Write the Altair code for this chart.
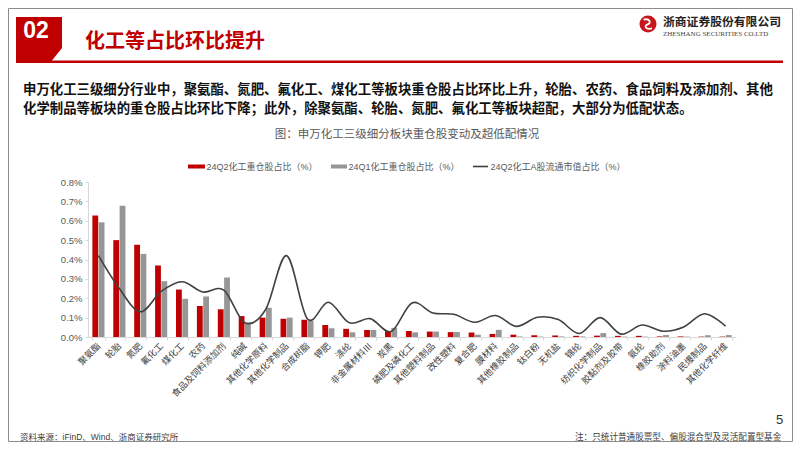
import altair as alt
import pandas as pd

# ---------------- data ----------------
categories = ["聚氨酯", "轮胎", "氮肥", "氟化工", "煤化工", "农药", "食品及饲料添加剂", "纯碱",
              "其他化学原料", "其他化学制品", "合成树脂", "钾肥", "涤纶", "非金属材料Ⅲ", "炭黑",
              "磷肥及磷化工", "其他塑料制品", "改性塑料", "复合肥", "膜材料", "其他橡胶制品", "钛白粉",
              "无机盐", "锦纶", "纺织化学制品", "胶黏剂及胶带", "氨纶", "橡胶助剂", "涂料油墨",
              "民爆制品", "其他化学纤维"]
q2_share = [0.627, 0.500, 0.476, 0.369, 0.245, 0.160, 0.143, 0.108, 0.100, 0.094, 0.089, 0.062,
            0.042, 0.036, 0.031, 0.031, 0.028, 0.025, 0.023, 0.016, 0.012, 0.009, 0.008, 0.006,
            0.007, 0.006, 0.006, 0.003, 0.003, 0.002, 0.002]
q1_share = [0.592, 0.678, 0.429, 0.288, 0.197, 0.209, 0.307, 0.074, 0.151, 0.100, 0.083, 0.045,
            0.024, 0.036, 0.047, 0.024, 0.028, 0.026, 0.012, 0.037, 0.003, 0.002, 0.003, 0.003,
            0.020, 0.002, 0.002, 0.010, 0.002, 0.009, 0.010]
mv_share = [0.420, 0.250, 0.130, 0.235, 0.285, 0.232, 0.242, 0.074, 0.142, 0.420, 0.093, 0.179,
            0.073, 0.095, 0.028, 0.176, 0.124, 0.117, 0.076, 0.111, 0.055, 0.102, 0.090, 0.018,
            0.100, 0.015, 0.062, 0.030, 0.052, 0.120, 0.056]
series_names = ["24Q2化工重仓股占比（%）", "24Q1化工重仓股占比（%）", "24Q2化工A股流通市值占比（%）"]
y_ticks = [0.0, 0.1, 0.2, 0.3, 0.4, 0.5, 0.6, 0.7, 0.8]

bars_df = pd.DataFrame(
    [{"category": c, "series": series_names[0], "value": v} for c, v in zip(categories, q2_share)]
    + [{"category": c, "series": series_names[1], "value": v} for c, v in zip(categories, q1_share)]
)
line_df = pd.DataFrame({"category": categories, "value": mv_share})

CJK = "Noto Sans CJK SC"
LAT = "Liberation Sans, Noto Sans CJK SC"
RED = "#C00000"
GRAY = "#969696"
DARK = "#404040"

# plot area origin in page coordinates (8px body margin + padding)
OX, OY = 88, 182
one = pd.DataFrame({"k": [0]})


def px(x):
    return alt.value(x - OX)


def py(y):
    return alt.value(y - OY)


def txt(s, x, y, size, color, weight="normal", align="left", font=CJK, baseline="middle"):
    return alt.Chart(one).mark_text(
        text=s, align=align, baseline=baseline, fontSize=size, font=font,
        fontWeight=weight, color=color
    ).encode(x=px(x), y=py(y))


def box(x1, x2, y1, y2, color, fill=True, sw=1):
    if fill:
        m = alt.Chart(one).mark_rect(color=color)
    else:
        m = alt.Chart(one).mark_rect(fill=None, filled=False, stroke=color, strokeWidth=sw)
    return m.encode(x=px(x1), x2=px(x2), y=py(y1), y2=py(y2))


# ---------------- chart ----------------
x_axis = alt.Axis(title=None, labelAngle=315, labelAlign="right", labelBaseline="middle",
                  labelFontSize=9, labelFont=CJK, labelColor="#404040", tickBand="extent",
                  tickSize=3, tickColor="#d9d9d9", domainColor="#d9d9d9", labelPadding=4,
                  labelOverlap=False, labelLimit=200)
x_scale = alt.Scale(paddingInner=0.42, paddingOuter=0.21)
y_axis = alt.Axis(title=None, values=y_ticks, labelExpr="format(datum.value, '.1f') + '%'",
                  labelFontSize=9.5, labelFont="Liberation Sans", labelColor="#595959",
                  tickSize=3, tickColor="#d9d9d9", domainColor="#d9d9d9", grid=False,
                  labelPadding=3, labelOverlap=False, tickCount=9)
y_scale = alt.Scale(domain=[0, 0.8], nice=False)

bars = alt.Chart(bars_df).mark_bar().encode(
    x=alt.X("category:N", sort=categories, scale=x_scale, axis=x_axis),
    xOffset=alt.XOffset("series:N", sort=series_names[:2], scale=alt.Scale(paddingInner=0.08)),
    y=alt.Y("value:Q", scale=y_scale, axis=y_axis),
    color=alt.Color("series:N", scale=alt.Scale(domain=series_names[:2], range=[RED, GRAY]),
                    legend=None),
)

line = alt.Chart(line_df).mark_line(interpolate="cardinal", color=DARK, strokeWidth=1.6).encode(
    x=alt.X("category:N", sort=categories, scale=x_scale, axis=x_axis),
    y=alt.Y("value:Q", scale=y_scale, axis=y_axis),
)

# ---------------- slide decorations ----------------
frame = box(8.5, 792.5, 8.5, 441.5, "#8c8c8c", fill=False, sw=1)
red_box = alt.Chart(one).mark_point(
    shape="M-1,-1L1,-1L1,0.348L0.478,1L-1,1Z", filled=True, size=2116,
    color=RED, opacity=1, strokeWidth=0
).encode(x=px(39), y=py(40))
title_rule = alt.Chart(one).mark_rule(color=RED, strokeWidth=2.5).encode(
    x=px(16), x2=px(783), y=py(61.8))
num = txt("02", 36, 30.5, 23, "white", weight="bold", align="center", font="Liberation Sans")
title = txt("化工等占比环比提升", 85, 41.5, 20, RED, weight="bold")

logo_disk = alt.Chart(one).mark_point(shape="circle", filled=True, size=289, color="#C8161D",
                                      opacity=1, strokeWidth=0).encode(x=px(648), y=py(24))
logo_swirl = alt.Chart(one).mark_point(
    shape="M-0.55,-0.55C0.25,-0.75 0.45,-0.1 -0.05,0.05C-0.5,0.2 -0.35,0.75 0.5,0.55",
    filled=False, size=256, stroke="white", strokeWidth=1.8, opacity=1
).encode(x=px(648), y=py(24))
logo_cn = txt("浙商证券股份有限公司", 663, 22, 11.8, "#222222", weight="bold")
logo_en = txt("ZHESHANG SECURITIES CO.LTD", 663, 33.5, 7, "#444444", font="Liberation Serif")

para1 = txt("申万化工三级细分行业中，聚氨酯、氮肥、氟化工、煤化工等板块重仓股占比环比上升，轮胎、农药、食品饲料及添加剂、其他",
            23, 89.5, 13.4, "#111111", weight="bold")
para2 = txt("化学制品等板块的重仓股占比环比下降；此外，除聚氨酯、轮胎、氮肥、氟化工等板块超配，大部分为低配状态。",
            23, 108.5, 13.4, "#111111", weight="bold")
chart_title = txt("图：申万化工三级细分板块重仓股变动及超低配情况", 407, 135, 11.5, "#595959", align="center")

leg_red = box(188, 205, 164.5, 168.5, RED)
leg_gray = box(331, 347, 164.5, 168.5, GRAY)
leg_line = alt.Chart(one).mark_rule(color=DARK, strokeWidth=1.6).encode(x=px(473), x2=px(488), y=py(166.5))
leg_t1 = txt(series_names[0], 206.5, 166.5, 9, "#595959", font=LAT)
leg_t2 = txt(series_names[1], 348.5, 166.5, 9, "#595959", font=LAT)
leg_t3 = txt(series_names[2], 490.5, 166.5, 9, "#595959", font=LAT)

source = txt("资料来源：iFinD、Wind、浙商证券研究所", 20, 437, 8.5, "#404040", font=LAT)
note = txt("注：只统计普通股票型、偏股混合型及灵活配置型基金", 575, 437, 8.6, "#404040")
page = txt("5", 779.5, 420, 13, "#333333", align="center", font="Liberation Sans")

chart = alt.layer(
    bars, line,
    frame, red_box, title_rule, num, title, logo_disk, logo_swirl, logo_cn, logo_en,
    para1, para2, chart_title, leg_red, leg_gray, leg_line, leg_t1, leg_t2, leg_t3,
    source, note, page
).properties(
    width=648, height=155,
    autosize=alt.AutoSizeParams(type="none"),
    padding={"left": 80, "top": 174, "right": 57, "bottom": 105},
    background="white",
).configure_view(stroke=None)

chart.save("out.html", embed_options={"renderer": "svg", "actions": False})
